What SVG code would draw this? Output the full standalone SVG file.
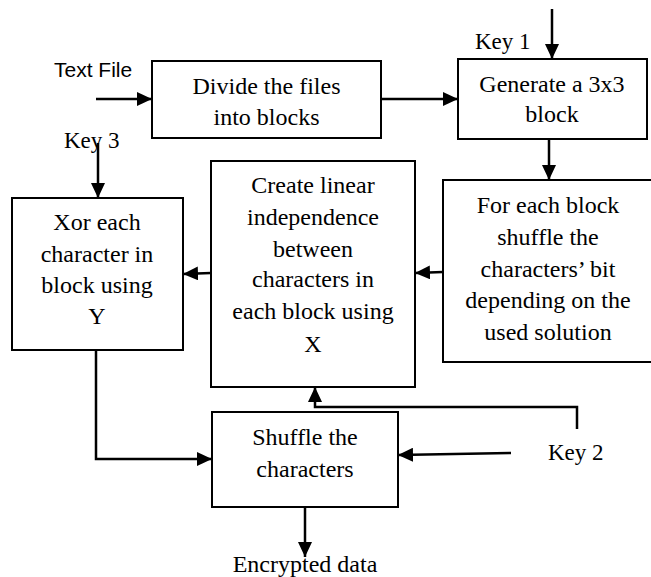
<svg xmlns="http://www.w3.org/2000/svg" width="651" height="577" viewBox="0 0 651 577">
  <style>
    .box { fill: #fff; stroke: #000; stroke-width: 2; }
    .boxtext { font-family: "Liberation Serif", "Times New Roman", serif; font-size: 24px; fill: #000; text-anchor: middle; }
    .keytext { font-family: "Liberation Serif", "Times New Roman", serif; font-size: 23px; fill: #000; }
    .sanstext { font-family: "Liberation Sans", Arial, sans-serif; font-size: 21px; fill: #000; }
    .conn { fill: none; stroke: #000; stroke-width: 2.5; marker-end: url(#arrow); }
  </style>
  <defs>
    <marker id="arrow" markerUnits="userSpaceOnUse" markerWidth="15" markerHeight="14" refX="15" refY="7" orient="auto">
      <path d="M0,0 L15,7 L0,14 z" fill="#000"/>
    </marker>
  </defs>

  <rect width="651" height="577" fill="#fff"/>

  <!-- process boxes -->
  <g id="divide" font-family="'Liberation Serif', 'Times New Roman', serif">
    <rect class="box" x="152" y="61" width="229" height="77"/>
    <text class="boxtext" x="266.5" y="94">Divide the files</text>
    <text class="boxtext" x="266.5" y="125">into blocks</text>
  </g>
  <g id="generate" font-family="'Liberation Serif', 'Times New Roman', serif">
    <rect class="box" x="458" y="59" width="189" height="80"/>
    <text class="boxtext" x="552" y="92">Generate a 3x3</text>
    <text class="boxtext" x="552" y="122">block</text>
  </g>
  <g id="shuffle-bits" font-family="'Liberation Serif', 'Times New Roman', serif">
    <rect class="box" x="443" y="180" width="210" height="182"/>
    <text class="boxtext" x="548" y="213">For each block</text>
    <text class="boxtext" x="548" y="245">shuffle the</text>
    <text class="boxtext" x="548" y="277">characters’ bit</text>
    <text class="boxtext" x="548" y="308">depending on the</text>
    <text class="boxtext" x="548" y="340">used solution</text>
  </g>
  <g id="independence" font-family="'Liberation Serif', 'Times New Roman', serif">
    <rect class="box" x="211" y="161" width="204" height="226"/>
    <text class="boxtext" x="313" y="193">Create linear</text>
    <text class="boxtext" x="313" y="225">independence</text>
    <text class="boxtext" x="313" y="257">between</text>
    <text class="boxtext" x="313" y="287">characters in</text>
    <text class="boxtext" x="313" y="319">each block using</text>
    <text class="boxtext" x="313" y="352">X</text>
  </g>
  <g id="xor" font-family="'Liberation Serif', 'Times New Roman', serif">
    <rect class="box" x="12" y="198" width="171" height="152"/>
    <text class="boxtext" x="97" y="230">Xor each</text>
    <text class="boxtext" x="97" y="262">character in</text>
    <text class="boxtext" x="97" y="293">block using</text>
    <text class="boxtext" x="97" y="324">Y</text>
  </g>
  <g id="shuffle-chars" font-family="'Liberation Serif', 'Times New Roman', serif">
    <rect class="box" x="212" y="412" width="186" height="95"/>
    <text class="boxtext" x="305" y="445">Shuffle the</text>
    <text class="boxtext" x="305" y="477">characters</text>
  </g>

  <!-- inputs and output labels -->
  <g id="labels">
    <text class="sanstext" x="54" y="77">Text File</text>
    <text class="keytext" x="475" y="49">Key 1</text>
    <text class="keytext" x="64" y="148">Key 3</text>
    <text class="keytext" x="548" y="460">Key 2</text>
    <text class="boxtext" x="305" y="572">Encrypted data</text>
  </g>

  <!-- connectors -->
  <g id="connectors">
    <path class="conn" d="M96,99 L152,99"/>
    <path class="conn" d="M381,99 L458,99"/>
    <path class="conn" d="M552,9 L552,59"/>
    <path class="conn" d="M549,139 L549,180"/>
    <path class="conn" d="M443,272 L415,273"/>
    <path class="conn" d="M211,273 L183,274"/>
    <path class="conn" d="M98,143 L98,198"/>
    <path class="conn" d="M96,350 L96,459 L212,459"/>
    <path class="conn" d="M511,453 L398,455"/>
    <path class="conn" d="M577,429 L577,407 L315,407 L315,387"/>
    <path class="conn" d="M305,507 L305,557"/>
  </g>
</svg>
